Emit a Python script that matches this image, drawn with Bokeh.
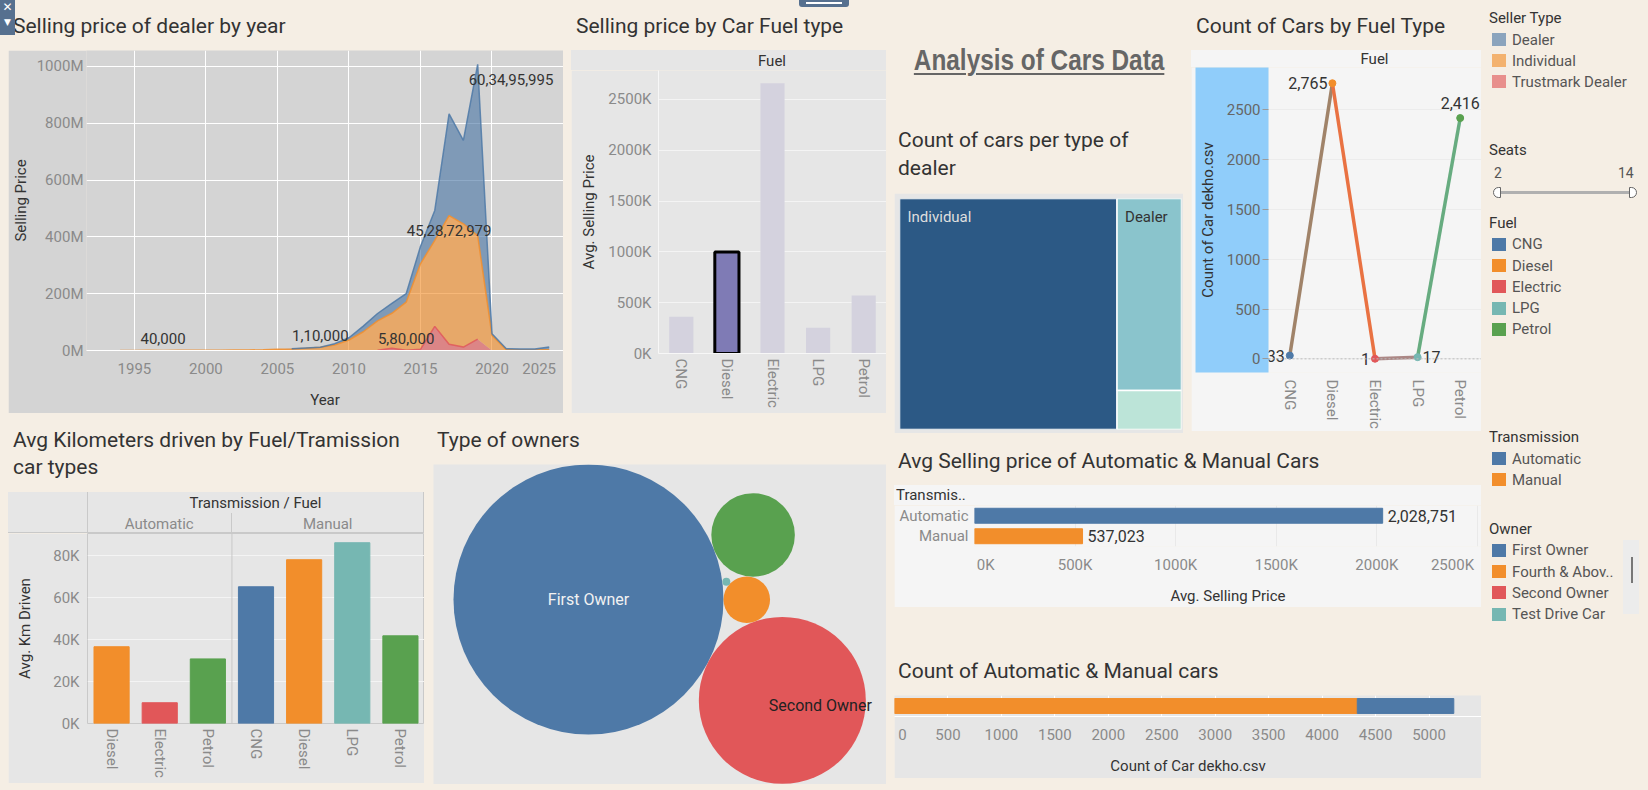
import math
from bokeh.plotting import figure
from bokeh.models import (Range1d, FactorRange, FixedTicker, CustomJSTickFormatter,
                          Span, Div, ColumnDataSource)
from bokeh.layouts import row, column
from bokeh.embed import file_html
from bokeh.resources import INLINE
from bokeh.core.properties import value

# ------------------------------------------------------------------ data
years = [1994, 1995, 1996, 1997, 1998, 1999, 2000, 2001, 2002, 2003, 2004, 2005, 2006, 2007, 2008,
         2009, 2010, 2011, 2012, 2013, 2014, 2015, 2016, 2017, 2018, 2019, 2020, 2021, 2022, 2023, 2024]
dealer_price = [0, 0, 0, 0, 0, 0, 0, 0, 0, 0, 0, 0, 500000, 1200000, 110000, 5000000, 8000000,
                20000000, 26000000, 35000000, 30000000, 61000000, 105000000, 358000000, 294000000,
                603495995, 6000000, 3000000, 3000000, 3000000, 9000000]
individual_price = [300000, 200000, 500000, 40000, 600000, 900000, 1100000, 800000, 1500000, 1800000,
                    2900000, 4200000, 5500000, 8000000, 11500000, 19000000, 37000000, 66000000,
                    103000000, 123000000, 169400000, 301000000, 303000000, 452872979, 434000000,
                    364000000, 53000000, 3000000, 2000000, 2000000, 3000000]
trustmark_price = [0, 0, 0, 0, 0, 0, 0, 0, 0, 0, 0, 0, 0, 0, 0, 0, 0, 0, 1200000, 8000000, 580000,
                   4000000, 85000000, 22000000, 12000000, 40000000, 0, 0, 0, 0, 0]

fuels = ["CNG", "Diesel", "Electric", "LPG", "Petrol"]
fuel_avg_price = [362000, 1000000, 2660000, 254000, 570000]
fuel_counts = [33, 2765, 1, 17, 2416]
selected_fuel = "Diesel"

seller_types = ["Dealer", "Individual", "Trustmark Dealer"]
seller_counts = [994, 4036, 202]

km_transmission = ["Automatic", "Automatic", "Automatic", "Manual", "Manual", "Manual", "Manual"]
km_fuel = ["Diesel", "Electric", "Petrol", "CNG", "Diesel", "LPG", "Petrol"]
km_avg = [36600, 9900, 30800, 65200, 78100, 86200, 41800]

owners = ["First Owner", "Second Owner", "Third Owner", "Fourth & Above Owner", "Test Drive Car"]
owner_counts = [3467, 1326, 332, 103, 3]
owner_legend_order = ["First Owner", "Fourth & Above Owner", "Second Owner", "Test Drive Car", "Third Owner"]
owner_legend_visible = 4   # the legend list is scrolled: only the first rows are in view

transmissions = ["Automatic", "Manual"]
trans_avg_price = [2028751, 537023]
trans_counts = [903, 4329]

seats_range = [2, 14]

# ------------------------------------------------------------------ style
FONT = "Roboto"
CREAM = "#f5eee4"
GRAY_D = "#d4d4d4"
GRAY_M = "#e6e6e6"
GRAY_L = "#f5f5f5"
TXT = "#333333"
TICK = "#8a8a8a"
LINEC = "#c9c9c9"
BLUE, ORANGE, RED, TEAL, GREEN = "#4e79a7", "#f28e2b", "#e15759", "#76b7b2", "#59a14f"
FUEL_COLOR = {"CNG": BLUE, "Diesel": ORANGE, "Electric": RED, "LPG": TEAL, "Petrol": GREEN}
SELLER_COLOR = {"Dealer": BLUE, "Individual": ORANGE, "Trustmark Dealer": RED}
TREE_COLOR = {"Individual": "#2c5985", "Dealer": "#8ac4cc", "Trustmark Dealer": "#bce4d8"}
OWNER_COLOR = {"First Owner": BLUE, "Second Owner": RED, "Third Owner": GREEN,
               "Fourth & Above Owner": ORANGE, "Test Drive Car": TEAL}
TRANS_COLOR = {"Automatic": BLUE, "Manual": ORANGE}
NB = "String.fromCharCode(160)"
CENTER = "transform:translateX(-50%);"


def base_fig(w, h, bg, **kw):
    return figure(width=w, height=h, output_backend="svg", toolbar_location=None,
                  background_fill_color=bg, border_fill_color=bg, outline_line_color=None, **kw)


def style_axis(ax, label_standoff=5, title_standoff=5, tick_color=TICK):
    ax.major_label_text_font = FONT
    ax.major_label_text_font_size = "15px"
    ax.major_label_text_color = tick_color
    ax.axis_label_text_font = FONT
    ax.axis_label_text_font_size = "15px"
    ax.axis_label_text_font_style = "normal"
    ax.axis_label_text_color = TXT
    ax.major_tick_line_color = None
    ax.minor_tick_line_color = None
    ax.major_tick_in = 0
    ax.major_tick_out = 0
    ax.minor_tick_in = 0
    ax.minor_tick_out = 0
    ax.axis_line_color = None
    ax.major_label_standoff = label_standoff
    ax.axis_label_standoff = title_standoff


def indian(n):
    s = str(int(n))
    if len(s) <= 3:
        return s
    last3, rest = s[-3:], s[:-3]
    parts = []
    while len(rest) > 2:
        parts.insert(0, rest[-2:])
        rest = rest[:-2]
    if rest:
        parts.insert(0, rest)
    return ",".join(parts + [last3])


def esc(t):
    return t.replace("&", "&amp;")


def text_div(w, h, items, extra_html="", bg=None, margin=0):
    bgc = f"background:{bg};" if bg else ""
    html = f'<div style="position:relative;width:{w}px;height:{h}px;{bgc}">'
    for it in items:
        t, x, cy = it[0], it[1], it[2]
        size = it[3] if len(it) > 3 else 21
        color = it[4] if len(it) > 4 else TXT
        css = it[5] if len(it) > 5 else ""
        lh = int(size * 1.3)
        html += (f'<div style="position:absolute;left:{x}px;top:{cy - lh / 2:.1f}px;height:{lh}px;'
                 f'line-height:{lh}px;font-family:{FONT};font-size:{size}px;color:{color};'
                 f'white-space:nowrap;{css}">{esc(t)}</div>')
    html += extra_html + '</div>'
    return Div(text=html, width=w, height=h, margin=margin)


def vline(x, y0, y1, color=LINEC):
    return f'<div style="position:absolute;left:{x:.1f}px;top:{y0}px;width:1px;height:{y1 - y0}px;background:{color};"></div>'


def hline(x0, x1, y, color=LINEC):
    return f'<div style="position:absolute;left:{x0}px;top:{y}px;width:{x1 - x0}px;height:1px;background:{color};"></div>'


# ------------------------------------------------------------------ panel 1 : area
tops_t = list(trustmark_price)
tops_i = [a + b for a, b in zip(tops_t, individual_price)]
tops_d = [a + b for a, b in zip(tops_i, dealer_price)]
src1 = ColumnDataSource(dict(year=years, trust=trustmark_price, indiv=individual_price, dealer=dealer_price))
p1 = base_fig(555, 363, GRAY_D, x_range=Range1d(1991.65, 2025.0), y_range=Range1d(0, 1.056e9),
              min_border_left=77, min_border_right=0, min_border_top=0, min_border_bottom=63)
p1.varea_stack(["trust", "indiv", "dealer"], x="year", color=[RED, ORANGE, BLUE], fill_alpha=0.63, source=src1)
for vals, tops, col in [(individual_price, tops_i, ORANGE), (dealer_price, tops_d, BLUE), (trustmark_price, tops_t, RED)]:
    ys = [t if v > 0 else float("nan") for v, t in zip(vals, tops)]
    p1.line(years, ys, line_color=col, line_width=1.5, line_alpha=0.85)

lab_center = dict(x=[], y=[], text=[], yo=[])
lab_left = dict(x=[], y=[], text=[], yo=[])
for vals, tops, which in [(individual_price, tops_i, "minmax"), (dealer_price, tops_d, "minmax"),
                          (trustmark_price, tops_t, "min")]:
    pres = [(v, yr, t) for v, yr, t in zip(vals, years, tops) if v > 0]
    vmin = min(pres)
    lab_center["x"].append(vmin[1]); lab_center["y"].append(vmin[2])
    lab_center["text"].append(indian(vmin[0])); lab_center["yo"].append(-12)
    if which == "minmax":
        vmax = max(pres)
        tgt = lab_left if vals is dealer_price else lab_center
        tgt["x"].append(vmax[1]); tgt["y"].append(vmax[2])
        tgt["text"].append(indian(vmax[0])); tgt["yo"].append(15)
p1.text(x="x", y="y", text="text", y_offset="yo", text_align="center", text_baseline="middle",
        text_font=value(FONT), text_font_size="15px", text_color=TXT, source=ColumnDataSource(lab_center))
p1.text(x="x", y="y", text="text", y_offset="yo", x_offset=-9, text_align="left", text_baseline="middle",
        text_font=value(FONT), text_font_size="15px", text_color=TXT, source=ColumnDataSource(lab_left))
style_axis(p1.xaxis, label_standoff=9, title_standoff=10)
style_axis(p1.yaxis, label_standoff=3, title_standoff=4)
p1.xaxis.axis_line_color = "white"
p1.xaxis.ticker = FixedTicker(ticks=[1995, 2000, 2005, 2010, 2015, 2020, 2025])
p1.xaxis.formatter = CustomJSTickFormatter(
    code=f"return tick >= 2025 ? String(tick) + {NB}.repeat(2) : String(tick);")
p1.yaxis.ticker = FixedTicker(ticks=[0, 2e8, 4e8, 6e8, 8e8, 1e9])
p1.yaxis.formatter = CustomJSTickFormatter(code="return (tick/1e6).toFixed(0) + 'M';")
p1.xaxis.axis_label = "Year"
p1.yaxis.axis_label = "Selling Price"
p1.xgrid.grid_line_color = "white"
p1.ygrid.grid_line_color = "white"

# ------------------------------------------------------------------ panel 2 : fuel price bars
p2 = base_fig(315, 343, GRAY_M, x_range=FactorRange(*fuels), y_range=Range1d(0, 2785000),
              min_border_left=87, min_border_right=0, min_border_top=0, min_border_bottom=60)
src2 = ColumnDataSource(dict(
    fuel=fuels, val=fuel_avg_price,
    fill=["#7f7bb5" if f == selected_fuel else "#d4d2de" for f in fuels],
    la=[1.0 if f == selected_fuel else 0.0 for f in fuels]))
p2.vbar(x="fuel", top="val", width=0.53, fill_color="fill", line_color="black", line_alpha="la",
        line_width=3, source=src2)
style_axis(p2.xaxis, label_standoff=5)
style_axis(p2.yaxis, label_standoff=7, title_standoff=7)
p2.xaxis.axis_line_color = "#f7f7f7"
p2.yaxis.axis_line_color = "#f7f7f7"
p2.xaxis.major_label_orientation = "vertical"
p2.yaxis.ticker = FixedTicker(ticks=[0, 500000, 1000000, 1500000, 2000000, 2500000])
p2.yaxis.formatter = CustomJSTickFormatter(code="return (tick/1000).toFixed(0) + 'K';")
p2.yaxis.axis_label = "Avg. Selling Price"
p2.xgrid.grid_line_color = None
p2.ygrid.grid_line_color = "#f4f4f4"
S2 = text_div(315, 20, [("Fuel", 87 + (315 - 87) / 2, 11, 15, TXT, CENTER)], bg=GRAY_M)

# ------------------------------------------------------------------ panel 3 : treemap
total_sellers = sum(seller_counts)
sc = dict(zip(seller_types, seller_counts))
ind_w = sc["Individual"]
right_total = sc["Dealer"] + sc["Trustmark Dealer"]
split = sc["Trustmark Dealer"] / right_total
tm = dict(
    name=["Individual", "Dealer", "Trustmark Dealer"],
    left=[0, ind_w, ind_w], right=[ind_w, total_sellers, total_sellers],
    bottom=[0, split, 0], top=[1, 1, split])
tm["fill"] = [TREE_COLOR[n] for n in tm["name"]]
p3 = base_fig(289, 240, GRAY_M, x_range=Range1d(0, total_sellers), y_range=Range1d(0, 1),
              min_border_left=5, min_border_right=2, min_border_top=5, min_border_bottom=4)
p3.quad(left="left", right="right", bottom="bottom", top="top", fill_color="fill",
        line_color="white", line_width=1.5, source=ColumnDataSource(tm))
p3.axis.visible = False
p3.grid.grid_line_color = None
tl = dict(x=tm["left"][:2], y=tm["top"][:2], text=tm["name"][:2], c=["#dedede", TXT])
p3.text(x="x", y="y", text="text", x_offset=8, y_offset=18, text_align="left", text_baseline="middle",
        text_font=value(FONT), text_font_size="15px", text_color="c", source=ColumnDataSource(tl))

# ------------------------------------------------------------------ panel 4 : count line
p4 = base_fig(290, 364, GRAY_L, x_range=FactorRange(*fuels), y_range=Range1d(-137, 2923),
              min_border_left=77, min_border_right=0, min_border_top=0, min_border_bottom=58)


def blend(c1, c2):
    a = [int(c1[i:i + 2], 16) for i in (1, 3, 5)]
    b = [int(c2[i:i + 2], 16) for i in (1, 3, 5)]
    return "#" + "".join(f"{(x + y) // 2:02x}" for x, y in zip(a, b))


fcols = [FUEL_COLOR[f] for f in fuels]
p4.add_layout(Span(location=0, dimension="width", line_color="#bbbbbb", line_dash="2 2", line_width=1))
p4.segment(x0=fuels[:-1], y0=fuel_counts[:-1], x1=fuels[1:], y1=fuel_counts[1:],
           line_color=[blend(a, b) for a, b in zip(fcols[:-1], fcols[1:])], line_width=3.5)
p4.scatter(x=fuels, y=fuel_counts, color=fcols, size=7)
lab_r = dict(x=[], y=[], t=[])
lab_l = dict(x=[], y=[], t=[])
lab_c = dict(x=[], y=[], t=[])
count_label_side = {"CNG": lab_r, "Diesel": lab_r, "Electric": lab_r, "LPG": lab_l, "Petrol": lab_c}
for f, v in zip(fuels, fuel_counts):
    d = count_label_side[f]
    d["x"].append(f); d["y"].append(v); d["t"].append(f"{v:,}")
for d, al, xo, yo in [(lab_r, "right", -5, 0), (lab_l, "left", 5, 0), (lab_c, "center", 0, -15)]:
    p4.text(x="x", y="y", text="t", text_align=al, x_offset=xo, y_offset=yo, text_baseline="middle",
            text_font=value(FONT), text_font_size="16px", text_color=TXT, source=ColumnDataSource(d))
style_axis(p4.xaxis, label_standoff=7)
style_axis(p4.yaxis, label_standoff=2, title_standoff=7, tick_color="#666666")
p4.yaxis.major_tick_out = 6
p4.yaxis.major_tick_line_color = "#9a9a9a"
try:
    p4.yaxis.background_fill_color = "#90cdfa"
except Exception:
    pass
p4.xaxis.major_label_orientation = "vertical"
p4.yaxis.ticker = FixedTicker(ticks=[0, 500, 1000, 1500, 2000, 2500])
p4.yaxis.axis_label = "Count of Car dekho.csv"
p4.xgrid.grid_line_color = None
p4.ygrid.grid_line_color = "#ececec"
S4 = text_div(290, 17, [("Fuel", 77 + (290 - 77) / 2, 9, 15, TXT, CENTER)], bg=GRAY_L)

# ------------------------------------------------------------------ panel 6 : km driven
seen = {}
km_factors = []
for f in km_fuel:
    k = seen.get(f, 0)
    km_factors.append(f + "\u200b" * k)
    seen[f] = k + 1
p6 = base_fig(416, 250, GRAY_M, x_range=FactorRange(*km_factors), y_range=Range1d(0, 90600),
              min_border_left=79, min_border_right=0, min_border_top=0, min_border_bottom=60)
p6.outline_line_color = LINEC
p6.vbar(x=km_factors, top=km_avg, width=0.73, color=[FUEL_COLOR[f] for f in km_fuel])
style_axis(p6.xaxis, label_standoff=5)
style_axis(p6.yaxis, label_standoff=8, title_standoff=16)
p6.xaxis.major_label_orientation = "vertical"
p6.yaxis.ticker = FixedTicker(ticks=[0, 20000, 40000, 60000, 80000])
p6.yaxis.formatter = CustomJSTickFormatter(code="return (tick/1000).toFixed(0) + 'K';")
p6.yaxis.axis_label = "Avg. Km Driven"
p6.xgrid.grid_line_color = None
p6.ygrid.grid_line_color = "#f4f4f4"
p6.add_layout(Span(location=km_transmission.count("Automatic"), dimension="height",
                   line_color=LINEC, line_width=1))
fw6 = 416 - 79
n_auto = km_transmission.count("Automatic")
n_all = len(km_transmission)
xd6 = 79 + fw6 * n_auto / n_all
S6 = text_div(416, 41, [
    ("Transmission / Fuel", 79 + fw6 / 2, 11, 15, TXT, CENTER),
    ("Automatic", 79 + fw6 * (n_auto / 2) / n_all, 32, 15, TICK, CENTER),
    ("Manual", 79 + fw6 * (n_auto + (n_all - n_auto) / 2) / n_all, 32, 15, TICK, CENTER)],
    extra_html=vline(79, 0, 41) + vline(xd6, 21, 41) + vline(415, 0, 41) + hline(0, 416, 40),
    bg=GRAY_M, margin=(0, 0, 0, 8))

# ------------------------------------------------------------------ panel 7 : bubbles
K = 2.293
rad = [K * math.sqrt(c) for c in owner_counts]
cent = {0: (0.0, 0.0)}
ang = math.radians(-27.5)
cent[1] = ((rad[0] + rad[1]) * math.cos(ang), (rad[0] + rad[1]) * math.sin(ang))


def tangent(i, j, rk):
    (x1, y1), (x2, y2) = cent[i], cent[j]
    R1, R2 = rad[i] + rk, rad[j] + rk
    dx, dy = x2 - x1, y2 - y1
    dd = math.hypot(dx, dy)
    a = (R1 * R1 - R2 * R2 + dd * dd) / (2 * dd)
    h = math.sqrt(max(R1 * R1 - a * a, 0))
    ux, uy = dx / dd, dy / dd
    bx, by = x1 + a * ux, y1 + a * uy
    c1 = (bx - h * uy, by + h * ux)
    c2 = (bx + h * uy, by - h * ux)
    return c1 if c1[1] >= c2[1] else c2


cent[3] = tangent(0, 1, rad[3])
cent[2] = tangent(0, 3, rad[2])
cent[4] = tangent(0, 3, rad[4])
p7 = base_fig(453, 320, GRAY_M, x_range=Range1d(-155, 298), y_range=Range1d(-185, 135),
              min_border_left=0, min_border_right=0, min_border_top=0, min_border_bottom=0)
p7.circle(x=[cent[i][0] for i in range(5)], y=[cent[i][1] for i in range(5)], radius=rad,
          color=[OWNER_COLOR[o] for o in owners], line_color=None)
p7.axis.visible = False
p7.grid.grid_line_color = None
p7.text(x=[cent[0][0]], y=[cent[0][1]], text=[owners[0]], text_align="center", text_baseline="middle",
        text_font=value(FONT), text_font_size="16px", text_color="#f2f2f2")
p7.text(x=[cent[1][0]], y=[cent[1][1]], text=[owners[1]], x_offset=38, y_offset=5, text_align="center",
        text_baseline="middle", text_font=value(FONT), text_font_size="16px", text_color="#222222")

# ------------------------------------------------------------------ panel 8 : avg price by transmission
p8 = base_fig(587, 102, GRAY_L, y_range=FactorRange(*reversed(transmissions)), x_range=Range1d(0, 2520000),
              min_border_left=80, min_border_right=0, min_border_top=0, min_border_bottom=61)
src8 = ColumnDataSource(dict(t=transmissions, v=trans_avg_price, c=[TRANS_COLOR[t] for t in transmissions],
                             lab=[f"{v:,}" for v in trans_avg_price]))
p8.hbar(y="t", right="v", height=0.73, color="c", source=src8)
p8.text(x="v", y="t", text="lab", x_offset=5, text_align="left", text_baseline="middle",
        text_font=value(FONT), text_font_size="16px", text_color=TXT, source=src8)
style_axis(p8.xaxis, label_standoff=9, title_standoff=10)
style_axis(p8.yaxis, label_standoff=6)
p8.xaxis.ticker = FixedTicker(ticks=[0, 500000, 1000000, 1500000, 2000000, 2500000])
p8.xaxis.formatter = CustomJSTickFormatter(
    code=f"var s = (tick/1000).toFixed(0) + 'K'; if (tick == 0) return {NB}.repeat(6) + s;"
         f" if (tick >= 2500000) return s + {NB}.repeat(2); return s;")
p8.xaxis.axis_label = "Avg. Selling Price"
p8.ygrid.grid_line_color = None
p8.xgrid.grid_line_color = "#e9e9e9"
S8 = text_div(587, 20, [("Transmis..", 2, 10, 15, TXT)], bg=GRAY_L, margin=(0, 0, 0, 8))

# ------------------------------------------------------------------ panel 9 : count by transmission
tc = dict(zip(transmissions, trans_counts))
p9 = base_fig(587, 83, GRAY_M, y_range=FactorRange("All"), x_range=Range1d(0, 5491),
              min_border_left=0, min_border_right=0, min_border_top=0, min_border_bottom=62)
p9.hbar_stack(["Manual", "Automatic"], y="cat", height=0.71, color=[ORANGE, BLUE],
              source=ColumnDataSource(dict(cat=["All"], Manual=[tc["Manual"]], Automatic=[tc["Automatic"]])))
style_axis(p9.xaxis, label_standoff=9, title_standoff=10)
p9.yaxis.visible = False
p9.xaxis.axis_line_color = "white"
p9.xaxis.ticker = FixedTicker(ticks=list(range(0, 5001, 500)))
p9.xaxis.formatter = CustomJSTickFormatter(code=f"return tick == 0 ? {NB} + '0' : String(tick);")
p9.xaxis.axis_label = "Count of Car dekho.csv"
p9.ygrid.grid_line_color = None
p9.xgrid.grid_line_color = "white"

# ------------------------------------------------------------------ titles (divs)
icon1 = ('<div style="position:absolute;left:0;top:0;width:15px;height:35px;background:#56708f;'
         'color:white;font-family:DejaVu Sans;font-size:12px;text-align:center;line-height:14px;">'
         '&#x2715;<br><span style="font-size:9px">&#x25BC;</span></div>')
D1 = text_div(563, 50, [("Selling price of dealer by year", 13, 26)], icon1)
icon2 = ('<div style="position:absolute;left:228px;top:-4px;width:50px;height:11px;background:#56708f;'
         'border-radius:3px;"><div style="position:absolute;left:7px;right:7px;top:6px;height:2px;'
         'background:white;"></div></div>')
D2 = text_div(315, 50, [("Selling price by Car Fuel type", 5, 26)], icon2)
D6 = text_div(424, 79, [("Avg Kilometers driven by Fuel/Tramission", 13, 27.5), ("car types", 13, 54.5)])
D7 = text_div(453, 51, [("Type of owners", 4, 27.5)])
main_title = ('<div style="position:absolute;left:4px;width:297px;top:42px;height:36px;line-height:36px;'
              'text-align:center;white-space:nowrap;">'
              '<span style="display:inline-block;transform:scaleX(0.84);transform-origin:center;'
              'font-family:\'Liberation Sans\',Arial,sans-serif;font-weight:bold;font-size:29px;color:#666666;'
              'text-decoration:underline;text-decoration-thickness:2px;text-underline-offset:3px;">'
              'Analysis of Cars Data</span></div>')
D3 = text_div(297, 193, [("Count of cars per type of", 12, 140.5), ("dealer", 12, 168)], main_title)
D4 = text_div(290, 50, [("Count of Cars by Fuel Type", 5, 26.3)])
D8 = text_div(595, 52, [("Avg Selling price of Automatic & Manual Cars", 12, 28.7)])
D9 = text_div(595, 88, [("Count of Automatic & Manual cars", 12, 64.7)])

# ------------------------------------------------------------------ legend column
def rgba(hexc, a):
    return f"rgba({int(hexc[1:3], 16)},{int(hexc[3:5], 16)},{int(hexc[5:7], 16)},{a})"


leg = []


def leg_text(t, x, cy, color="#555555", size=15):
    leg.append(f'<div style="position:absolute;left:{x}px;top:{cy - 10:.1f}px;height:20px;line-height:20px;'
               f'font-family:{FONT};font-size:{size}px;color:{color};white-space:nowrap;">{esc(t)}</div>')


def leg_sw(cy, color):
    leg.append(f'<div style="position:absolute;left:11px;top:{cy - 6.5:.1f}px;width:14px;height:13px;'
               f'background:{color};"></div>')


def leg_block(title, names, colors, y_title, y_first, step=21.2, maxlen=None):
    leg_text(title, 8, y_title, TXT)
    for i, (n, c) in enumerate(zip(names, colors)):
        cy = y_first + i * step
        leg_sw(cy, c)
        if maxlen and len(n) > maxlen:
            n = n[:maxlen - 2] + ".."
        leg_text(n, 31, cy)


leg_block("Seller Type", seller_types, [rgba(SELLER_COLOR[s], 0.63) for s in seller_types], 17.5, 39.5)
leg_text("Seats", 8, 150, TXT)
leg_text(str(seats_range[0]), 13, 173, "#555555", 14)
leg_text(str(seats_range[1]), 137, 173, "#555555", 14)
leg.append('<div style="position:absolute;left:16px;top:191px;width:136px;height:3px;background:#b0b0b0;"></div>')
leg.append('<div style="position:absolute;left:12px;top:187px;width:8px;height:11px;background:white;'
           'border:1px solid #666;border-radius:6px 0 0 6px;"></div>')
leg.append('<div style="position:absolute;left:148px;top:187px;width:8px;height:11px;background:white;'
           'border:1px solid #666;border-radius:0 6px 6px 0;"></div>')
leg_block("Fuel", fuels, [FUEL_COLOR[f] for f in fuels], 223, 244.4)
leg_block("Transmission", transmissions, [TRANS_COLOR[t] for t in transmissions], 437, 458.7)
vis_owners = owner_legend_order[:owner_legend_visible]
leg_block("Owner", vis_owners, [OWNER_COLOR[o] for o in vis_owners], 528.7, 550.4, maxlen=15)
leg.append('<div style="position:absolute;left:142px;top:540px;width:16px;height:74px;background:#ececec;">'
           '<div style="position:absolute;left:8px;top:17px;width:1.5px;height:26px;background:#777;"></div></div>')
G = Div(text='<div style="position:relative;width:167px;height:790px;">' + "".join(leg) + '</div>',
        width=167, height=790, margin=0)

# ------------------------------------------------------------------ layout
for p in (p1, p6, p3, p8, p9):
    p.margin = (0, 0, 0, 8)
p2.margin = 0
p4.margin = 0
p7.margin = 0
C1 = column(D1, p1)
C2 = column(D2, S2, p2, margin=(0, 0, 0, 8))
C6 = column(D6, S6, p6)
C7 = column(D7, p7, margin=(0, 0, 0, 9))
L = column(row(C1, C2), row(C6, C7))
C3 = column(D3, p3)
C4 = column(D4, S4, p4, margin=(0, 0, 0, 8))
C8 = column(D8, S8, p8)
C9 = column(D9, p9)
R = column(row(C3, C4), C8, C9)
root = row(L, R, G, width=1648, height=790, styles={"background-color": CREAM})

open("out.html", "w").write(file_html(root, INLINE, title="Analysis of Cars Data"))
